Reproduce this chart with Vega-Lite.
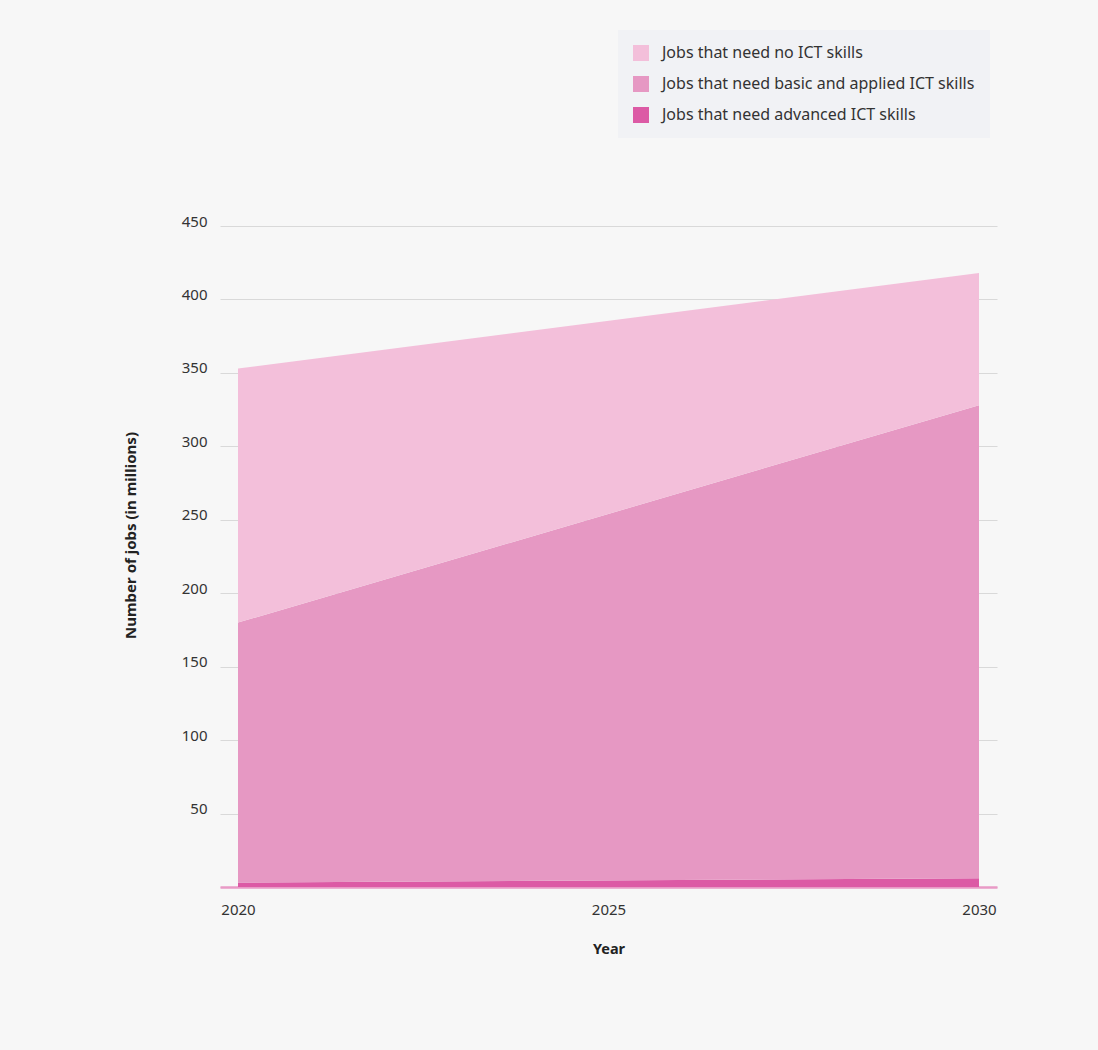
{
  "$schema": "https://vega.github.io/schema/vega-lite/v6.json",
  "autosize": {"type": "none"},
  "width": 777,
  "height": 661,
  "padding": {"left": 220, "top": 226, "right": 101, "bottom": 163},
  "background": "#f7f7f7",
  "config": {
    "view": {"stroke": null},
    "font": "Noto Sans",
    "axis": {"labelFont": "Noto Sans", "titleFont": "Noto Sans"}
  },
  "data": {
    "values": [
      {"year": 2020, "category": "Jobs that need advanced ICT skills", "jobs": 3, "rank": 1},
      {"year": 2030, "category": "Jobs that need advanced ICT skills", "jobs": 6, "rank": 1},
      {"year": 2020, "category": "Jobs that need basic and applied ICT skills", "jobs": 177, "rank": 2},
      {"year": 2030, "category": "Jobs that need basic and applied ICT skills", "jobs": 322, "rank": 2},
      {"year": 2020, "category": "Jobs that need no ICT skills", "jobs": 173, "rank": 3},
      {"year": 2030, "category": "Jobs that need no ICT skills", "jobs": 90, "rank": 3}
    ]
  },
  "mark": {"type": "area", "opacity": 1},
  "encoding": {
    "x": {
      "field": "year",
      "type": "quantitative",
      "scale": {"domain": [2020, 2030], "padding": 18, "nice": false, "zero": false},
      "axis": {
        "values": [2020, 2025, 2030],
        "format": "d",
        "title": "Year",
        "titleFontWeight": "bold",
        "titleFontSize": 14.5,
        "titleColor": "#222222",
        "titleY": 55,
        "labelFontSize": 15,
        "labelColor": "#333333",
        "labelPadding": 15,
        "labelFlush": false,
        "ticks": false,
        "grid": false,
        "domainColor": "#e99ac6",
        "domainWidth": 2.5,
        "domainCap": "butt"
      }
    },
    "y": {
      "field": "jobs",
      "type": "quantitative",
      "stack": "zero",
      "scale": {"domain": [0, 450], "nice": false},
      "axis": {
        "values": [0, 50, 100, 150, 200, 250, 300, 350, 400, 450],
        "labelExpr": "datum.value == 0 ? '' : datum.label",
        "title": "Number of jobs (in millions)",
        "titleFontWeight": "bold",
        "titleFontSize": 15,
        "titleColor": "#222222",
        "titleX": -82,
        "titleY": 309,
        "labelFontSize": 15,
        "labelColor": "#333333",
        "labelPadding": 13,
        "labelOffset": -5,
        "ticks": false,
        "domain": false,
        "grid": true,
        "gridColor": "#d9d9d9",
        "gridWidth": 1.2
      }
    },
    "order": {"field": "rank", "type": "quantitative"},
    "color": {
      "field": "category",
      "type": "nominal",
      "scale": {
        "domain": ["Jobs that need no ICT skills", "Jobs that need basic and applied ICT skills", "Jobs that need advanced ICT skills"],
        "range": ["#f3bfda", "#e698c3", "#dc5aa5"]
      },
      "legend": {
        "title": null,
        "orient": "none",
        "legendX": 398,
        "legendY": -196,
        "padding": 15,
        "fillColor": "#f1f2f5",
        "symbolType": "square",
        "symbolSize": 256,
        "symbolStrokeWidth": 0,
        "symbolOpacity": 1,
        "labelFontSize": 16,
        "labelColor": "#333333",
        "labelOffset": 13,
        "labelLimit": 500,
        "rowPadding": 15,
        "labelFont": "Noto Sans"
      }
    }
  }
}
